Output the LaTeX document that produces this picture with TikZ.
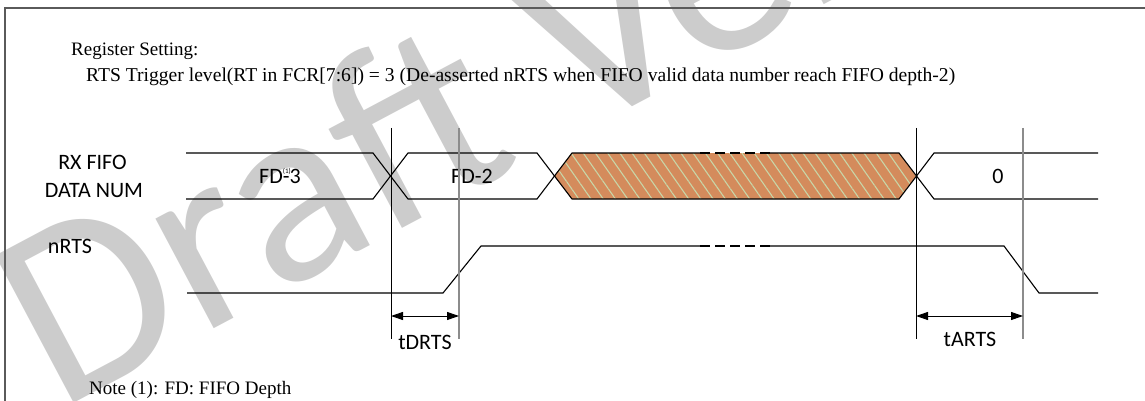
\documentclass[tikz,border=0pt]{standalone}
\usepackage{fontspec}
\setmainfont{Liberation Serif}
\newfontfamily\calibri{Carlito}
\usetikzlibrary{arrows.meta,patterns.meta}
\definecolor{hatchfill}{RGB}{212,139,92}
\definecolor{hatchline}{RGB}{200,214,168}
\definecolor{wmgray}{RGB}{204,204,204}
\definecolor{framegray}{RGB}{90,90,90}
\begin{document}
\begin{tikzpicture}[x=1pt,y=-1pt,
  serif/.style={font=\fontsize{19}{23}\selectfont, inner sep=0pt, anchor=base west},
  sig/.style={font=\calibri\fontsize{22}{26}\selectfont, inner sep=0pt},
  wave/.style={line width=1.1pt, black},
  mark1/.style={line width=0.9pt, black},
  mark2/.style={line width=1.6pt, gray!90},
  dim/.style={line width=1pt, {Triangle[length=12pt,width=8pt]}-{Triangle[length=12pt,width=8pt]}},
  wm/.style={font=\calibri\fontsize{260}{260}\selectfont, text=wmgray, inner sep=0pt}
]
\useasboundingbox (0,0) rectangle (1145,401);
% watermark
\begin{scope}
\clip (0,0) rectangle (1145,401);
\node[wm, rotate=28, anchor=base west] (wmark) at (58,412) {Draft Version};
\end{scope}
% frame
\draw[framegray, line width=1.5pt] (5,401) -- (5,8) -- (1145,8);
% texts
\node[serif] (reg) at (71,56) {Register Setting:};
\node[serif, font=\fontsize{19.6}{23}\selectfont] (rts) at (86,82) {RTS Trigger level(RT in FCR[7:6]) = 3 (De-asserted nRTS when FIFO valid data number reach FIFO depth-2)};
\node[serif] (note) at (89,394) {Note (1): FD: FIFO Depth};
% signal labels
\node[sig, anchor=base] (rx1) at (92.5,169) {RX FIFO};
\node[sig, anchor=base] (rx2) at (94,197) {DATA NUM};
\node[sig, anchor=base] (nrts) at (70,253) {nRTS};
% hatched region
\fill[hatchfill] (554,176) -- (572,153) -- (899,153) -- (916,176) -- (899,199) -- (572,199) -- cycle;
\fill[pattern={Lines[angle=-55,distance=10pt,line width=1.1pt]}, pattern color=hatchline]
  (554,176) -- (572,153) -- (899,153) -- (916,176) -- (899,199) -- (572,199) -- cycle;
% bus lines
\draw[wave] (186,153) -- (373,153) -- (408,199) -- (537,199) -- (572,153) -- (700,153);
\draw[wave, dash pattern=on 10pt off 5pt] (700,153) -- (770,153);
\draw[wave] (770,153) -- (899,153) -- (934,199) -- (1098,199);
\draw[wave] (186,199) -- (373,199) -- (408,153) -- (537,153) -- (572,199) -- (899,199) -- (934,153) -- (1098,153);
% bus values
\node[sig] (v1) at (280,176) {FD\rlap{\raisebox{10pt}{\fontsize{7}{7}\selectfont(1)}}-3};
\node[sig] (v2) at (472,176) {FD-2};
\node[sig] (v4) at (998,176) {0};
% nRTS
\draw[wave] (187,293) -- (443,293) -- (481,246) -- (700,246);
\draw[wave, dash pattern=on 10pt off 5pt] (700,246) -- (770,246);
\draw[wave] (770,246) -- (1004,246) -- (1039,293) -- (1098,293);
% timing markers
\coordinate (m1t) at (391,128); \coordinate (m1b) at (391,339);
\coordinate (m2t) at (459,128); \coordinate (m2b) at (459,339);
\coordinate (m3t) at (916,128); \coordinate (m3b) at (916,339);
\coordinate (m4t) at (1023,128); \coordinate (m4b) at (1023,339);
\draw[mark1] (m1t) -- (m1b);
\draw[mark2] (m2t) -- (m2b);
\draw[mark1] (m3t) -- (m3b);
\draw[mark2] (m4t) -- (m4b);
\coordinate (a1) at (391,316); \coordinate (a2) at (459,316);
\coordinate (a3) at (916,316); \coordinate (a4) at (1023,316);
\draw[dim] (a1) -- (a2);
\draw[dim] (a3) -- (a4);
\node[sig, anchor=base] (tdrts) at (425,349) {tDRTS};
\node[sig, anchor=base] (tarts) at (970,346) {tARTS};
\end{tikzpicture}
\end{document}
